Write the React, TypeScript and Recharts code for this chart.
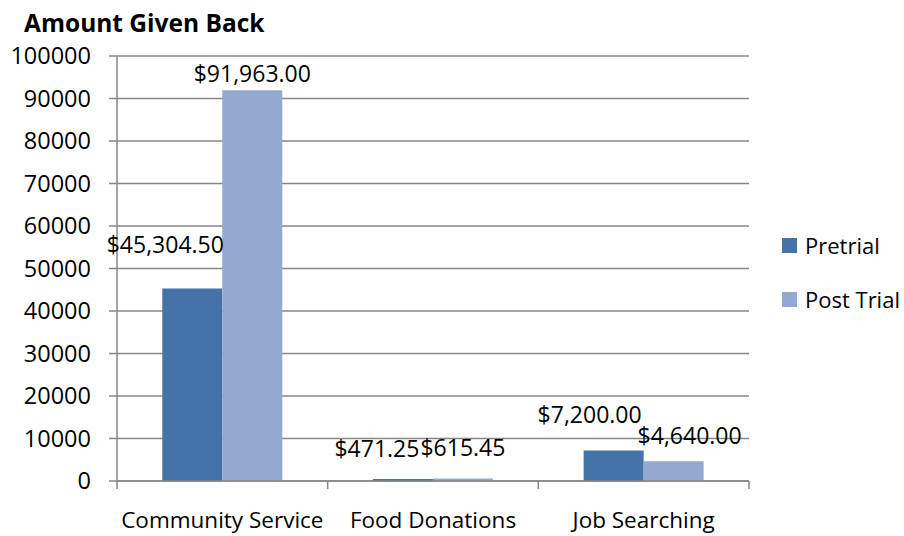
import React from 'react';
import { BarChart, Bar, XAxis, YAxis, CartesianGrid, LabelList } from 'recharts';

const categories = ['Community Service', 'Food Donations', 'Job Searching'];
const pretrialValues = [45304.5, 471.25, 7200];
const postTrialValues = [91963, 615.45, 4640];
const yTicks = [0, 10000, 20000, 30000, 40000, 50000, 60000, 70000, 80000, 90000, 100000];
const seriesNames = ['Pretrial', 'Post Trial'];
const title = 'Amount Given Back';

const data = categories.map((c, i) => ({
  name: c,
  pretrial: pretrialValues[i],
  post: postTrialValues[i],
}));

const FONT = '"Open Sans", sans-serif';
const GRID = '#878787';
const C_PRE = '#4572A7';
const C_POST = '#93A9CF';
const seriesColors = [C_PRE, C_POST];

const PRE_DX = [-27, -26, -24];
const PRE_RISE = [35, 22, 27];
const POST_DX = [0, 0, 16];
const POST_RISE = [8, 22, 17];

const fmt = new Intl.NumberFormat('en-US', { minimumFractionDigits: 2, maximumFractionDigits: 2 });

const makeLabel = (dxs: number[], rises: number[]) => (props: any) => {
  const { x, y, width, value, index } = props;
  const cx = Number(x) + Number(width) / 2 + (dxs[index] ?? 0);
  const cy = Number(y) - (rises[index] ?? 8);
  return (
    <text x={cx} y={cy} textAnchor="middle" fontSize={23} fontFamily={FONT} fill="#000">
      {'$' + fmt.format(Number(value))}
    </text>
  );
};

const XTick = (props: any) => {
  const { x, y, payload, index } = props;
  const off = payload?.offset ?? 0;
  const isLast = index === categories.length - 1;
  return (
    <g>
      <line x1={x - off} x2={x - off} y1={y} y2={y + 8} stroke={GRID} strokeWidth={1.5} />
      {isLast && <line x1={x + off} x2={x + off} y1={y} y2={y + 8} stroke={GRID} strokeWidth={1.5} />}
      <text x={x} y={y + 47} textAnchor="middle" fontSize={22.5} fontFamily={FONT} fill="#000">
        {payload.value}
      </text>
    </g>
  );
};

export default function App() {
  return (
    <div style={{ position: 'absolute', left: 0, top: 0, width: 904, height: 536, background: '#fff' }}>
      <svg width={904} height={40} style={{ position: 'absolute', left: 0, top: 0 }}>
        <text x={24} y={32} fontSize={24.5} fontWeight="bold" fontFamily={FONT} fill="#000">
          {title}
        </text>
      </svg>
      <div style={{ position: 'absolute', left: 782, top: 218, fontFamily: FONT, fontSize: 22 }}>
        {seriesNames.map((n, i) => (
          <div key={n} style={{ display: 'flex', alignItems: 'center', height: 54, color: '#000' }}>
            <div style={{ width: 15, height: 15, background: seriesColors[i], marginRight: 8 }} />
            <span>{n}</span>
          </div>
        ))}
      </div>
      <BarChart
        width={904}
        height={536}
        data={data}
        margin={{ top: 56, right: 155, bottom: 0, left: 0 }}
        barCategoryGap="21.5%"
        barGap={0}
      >
        <CartesianGrid vertical={false} stroke={GRID} strokeWidth={1.5} />
        <XAxis
          dataKey="name"
          height={55}
          axisLine={{ stroke: GRID, strokeWidth: 1.5 }}
          tickLine={false}
          tickSize={0}
          tickMargin={0}
          tick={<XTick />}
          interval={0}
        />
        <YAxis
          width={117}
          domain={[0, 100000]}
          ticks={yTicks}
          interval={0}
          axisLine={{ stroke: GRID, strokeWidth: 1.5 }}
          tickLine={{ stroke: GRID, strokeWidth: 1.5 }}
          tickSize={8}
          tickMargin={18}
          tick={{ fontSize: 23.5, fontFamily: FONT, fill: '#000' }}
        />
        <Bar dataKey="pretrial" name={seriesNames[0]} fill={C_PRE} isAnimationActive={false}>
          <LabelList dataKey="pretrial" content={makeLabel(PRE_DX, PRE_RISE)} />
        </Bar>
        <Bar dataKey="post" name={seriesNames[1]} fill={C_POST} isAnimationActive={false}>
          <LabelList dataKey="post" content={makeLabel(POST_DX, POST_RISE)} />
        </Bar>
      </BarChart>
    </div>
  );
}
